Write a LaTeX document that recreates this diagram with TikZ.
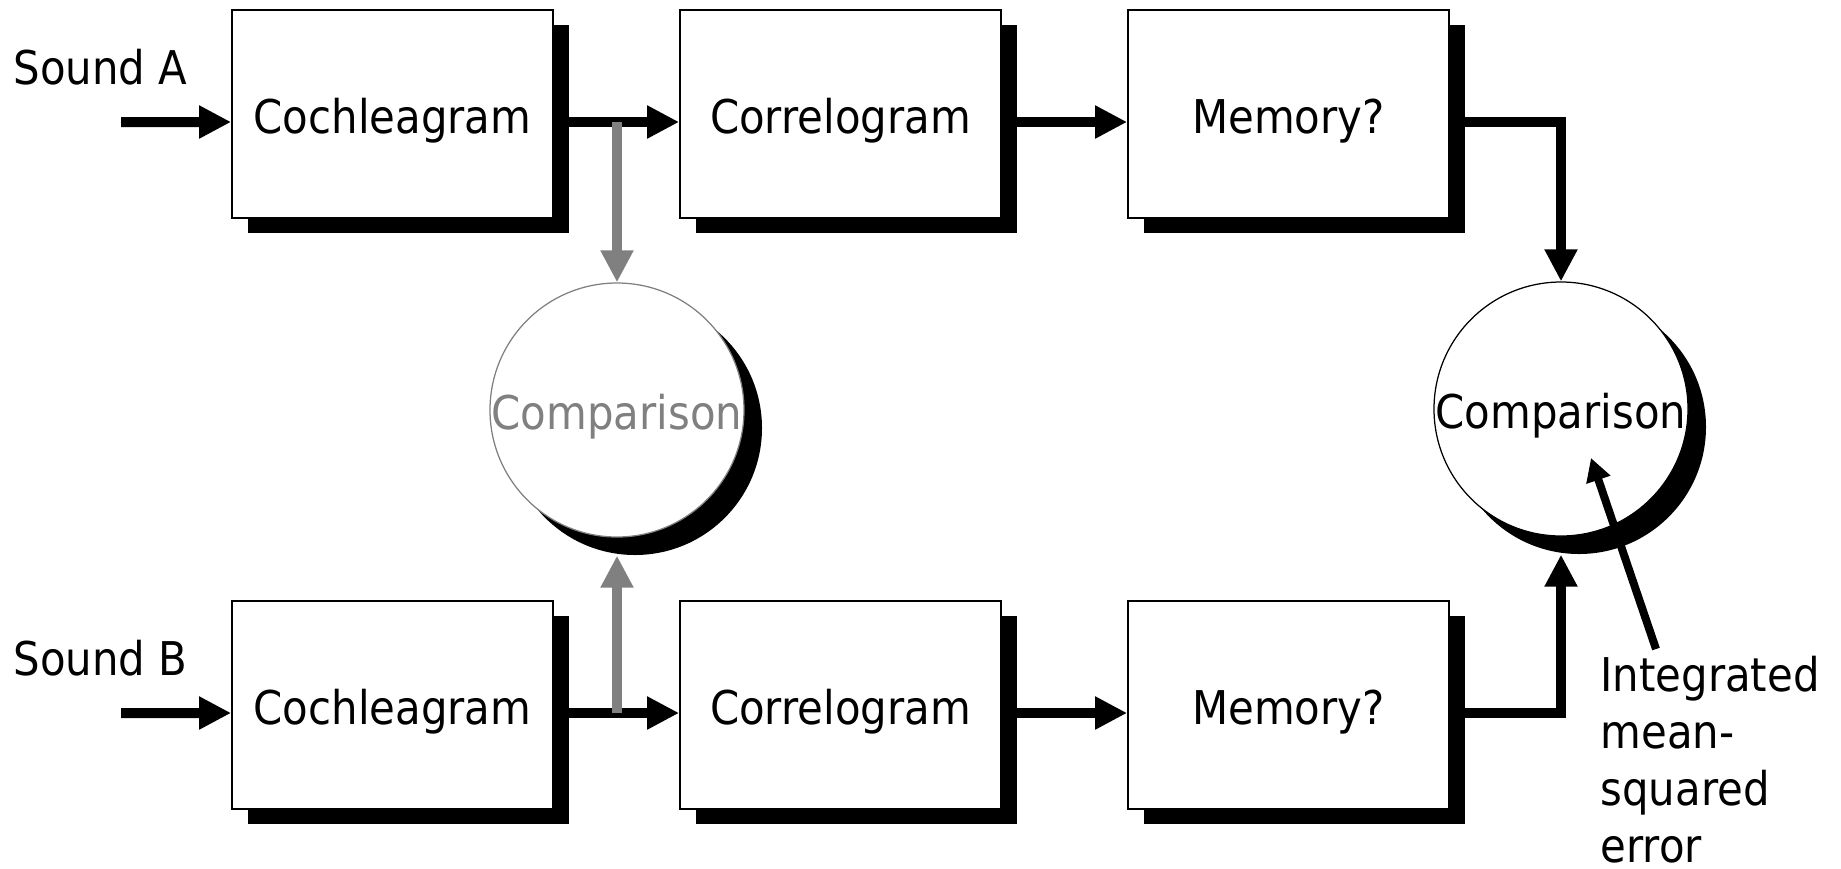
\documentclass[tikz,border=0pt]{standalone}
\usepackage{fontspec}
\setmainfont{DejaVu Sans}[FakeStretch=0.9]
\usetikzlibrary{arrows.meta,shadows}
\definecolor{gry}{RGB}{128,128,128}
\begin{document}
\begin{tikzpicture}[
  x=0.4pt, y={(0pt,-0.4pt)},
  font=\fontsize{18.6pt}{22.8pt}\selectfont,
  blk/.style={draw=black, line width=0.7pt, fill=white,
    minimum width=128.4pt, minimum height=83.2pt, inner sep=0pt,
    text height=15.2pt, text depth=0pt,
    drop shadow={shadow xshift=6.4pt, shadow yshift=-6pt, opacity=1, fill=black}},
  cmp/.style={circle, draw=black, line width=0.5pt, fill=white,
    minimum size=101.6pt, inner sep=0pt,
    text height=15.2pt, text depth=0pt,
    drop shadow={shadow xshift=7.2pt, shadow yshift=-7.2pt, opacity=1, fill=black}},
  arr/.style={line width=4pt, -{Triangle[length=12.8pt,width=12.4pt]}},
  garr/.style={arr, draw=gry},
  ptr/.style={line width=3.2pt, -{Triangle[length=9.2pt,width=9.6pt]}},
  lbl/.style={inner sep=0pt}
]
\useasboundingbox (0,0) rectangle (1841,868);

% processing chain for sound A
\node[blk] (cA) at (392.5,114) {Cochleagram};
\node[blk] (rA) at (840.5,114) {Correlogram};
\node[blk] (mA) at (1288.5,114) {Memory?};
% processing chain for sound B
\node[blk] (cB) at (392.5,705) {Cochleagram};
\node[blk] (rB) at (840.5,705) {Correlogram};
\node[blk] (mB) at (1288.5,705) {Memory?};

% comparison stages
\node[cmp, draw=gry, text=gry] (cmpL) at (617,410) {Comparison};
\node[cmp] (cmpR) at (1561,409) {Comparison};

% inputs
\node[lbl, anchor=base west] (sA) at (13,84) {Sound A};
\node[lbl, anchor=base west] (sB) at (13,675) {Sound B};
\coordinate (inA) at (121,122);
\coordinate (inB) at (121,713);

% main signal flow
\draw[arr] (inA) -- ([yshift=-3.2pt]cA.west);
\draw[arr] ([yshift=-3.2pt]cA.east) -- ([yshift=-3.2pt]rA.west);
\draw[arr] ([yshift=-3.2pt]rA.east) -- ([yshift=-3.2pt]mA.west);
\draw[arr] ([yshift=-3.2pt]mA.east) -| (cmpR.north);

\draw[arr] (inB) -- ([yshift=-3.2pt]cB.west);
\draw[arr] ([yshift=-3.2pt]cB.east) -- ([yshift=-3.2pt]rB.west);
\draw[arr] ([yshift=-3.2pt]rB.east) -- ([yshift=-3.2pt]mB.west);
\draw[arr] ([yshift=-3.2pt]mB.east) -| ([yshift=-7.2pt]cmpR.south);

% cochleagram-level comparison (grey)
\coordinate (jA) at (617,122);
\coordinate (jB) at (617,713);
\draw[garr] (jA) -- (cmpL.north);
\draw[garr] (jB) -- ([yshift=-7.2pt]cmpL.south);

% error measure label
\node[lbl, anchor=north west, align=left] (err) at (1600,656)
  {Integrated\\mean-\\squared\\error};
\coordinate (pTail) at (1656,649);
\coordinate (pTip) at (1591,458);
\draw[ptr] (pTail) -- (pTip);
\end{tikzpicture}
\end{document}
